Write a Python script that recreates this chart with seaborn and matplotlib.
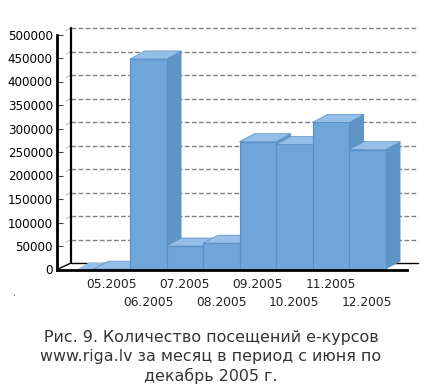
import matplotlib
matplotlib.use("Agg")
import matplotlib.pyplot as plt
import seaborn as sns
import pandas as pd
from matplotlib.patches import Polygon, Rectangle

months = ["", "05.2005", "06.2005", "07.2005", "08.2005", "09.2005", "10.2005", "11.2005", "12.2005"]
visits = [0, 800, 448000, 50000, 56000, 272000, 266000, 313000, 255000]
y_ticks = [0, 50000, 100000, 150000, 200000, 250000, 300000, 350000, 400000, 450000, 500000]
caption = "Рис. 9. Количество посещений е-курсов\nwww.riga.lv за месяц в период с июня по\nдекабрь 2005 г."

W, H = 428, 386
FRONT, SIDE, TOP, EDGE = "#6fa5d9", "#5f94c7", "#93bfe8", "#5a8fc4"
sns.set_theme(style="white", rc={"font.family": "DejaVu Sans"})

fig = plt.figure(figsize=(W / 100, H / 100), dpi=100, facecolor="white")
x0, y0, px_w, px_h = 57, 269.5, 350, 235
ax = fig.add_axes([x0 / W, 1 - y0 / H, px_w / W, px_h / H])

df = pd.DataFrame({"month": months, "visits": visits})
sns.barplot(data=df, x="month", y="visits", color=FRONT, saturation=1, width=1, ax=ax,
            order=months, linewidth=0, zorder=5)
bar_px = 36.5
ax.set_xlim(-0.5, -0.5 + px_w / bar_px)
ax.set_ylim(0, 500000)
ux = 1 / bar_px              # data units per pixel, horizontally
uy = 500000 / px_h           # data units per pixel, vertically
xl = -0.5

# back wall and gridlines
wx, wy = 14 * ux, 6.5 * uy
for t in y_ticks[1:]:
    ax.plot([xl + wx, xl + 361 * ux], [t + wy, t + wy], color="#808080", lw=1,
            dashes=(3.4, 1.7), clip_on=False, zorder=1)
    ax.plot([xl + 9 * ux, xl + wx], [t + wy * .6, t + wy], color="#bbbbbb", lw=.7, clip_on=False, zorder=1)
ax.plot([xl + wx, xl + wx], [wy, 500000 + wy], color="black", lw=1.6, clip_on=False, zorder=2)
ax.plot([xl, xl + wx], [0, wy], color="black", lw=1, clip_on=False, zorder=2)
ax.plot([xl + wx, xl + 361 * ux], [wy, wy], color="black", lw=1, clip_on=False, zorder=2)

# depth faces of every bar, left to right
dx, dy = 15 * ux, 8 * uy
for i, (bar, v) in enumerate(zip(ax.patches, visits)):
    z = 5 + i
    bar.set_zorder(z + .5)
    bar.set_edgecolor(EDGE)
    bar.set_linewidth(.8)
    l, r = bar.get_x(), bar.get_x() + bar.get_width()
    if i == 0:
        # only the near part of the empty first slot shows a floor tint in the reference
        l2 = l + 20 * ux
        ax.add_patch(Polygon([(l2, 0), (r, 0), (r + dx, wy), (l2 + 11 * ux, wy)], fc=TOP, ec="none",
                             zorder=z + .6, clip_on=False))
        continue
    ax.add_patch(Polygon([(r, 0), (r + dx, dy), (r + dx, v + dy), (r, v)], fc=SIDE, ec="none",
                         zorder=z, clip_on=False))
    ax.add_patch(Polygon([(l, v), (r, v), (r + dx, v + dy), (l + dx, v + dy)], fc=TOP, ec=EDGE, lw=.5,
                         zorder=z + .6, clip_on=False))

for s in ["top", "right"]:
    ax.spines[s].set_visible(False)
for s in ["left", "bottom"]:
    ax.spines[s].set_linewidth(2)
    ax.spines[s].set_color("black")
    ax.spines[s].set_zorder(30)

ax.set_xlabel("")
ax.set_ylabel("")
ax.set_yticks(y_ticks)
ax.set_yticklabels([str(t) for t in y_ticks], fontsize=8.6, color="black")
ax.tick_params(axis="y", left=True, direction="in", length=4, width=.8, color="#444444", pad=3)
ax.set_xticks(range(len(months)))
ax.set_xticklabels(months, fontsize=8.8, color="#222222")
ax.tick_params(axis="x", bottom=False, length=0)
for i, tick in enumerate(ax.xaxis.get_major_ticks()):
    tick.set_pad(6 if i % 2 else 19)

fig.text(211 / W, 1 - 357 / H, caption, ha="center", va="center", fontsize=11.4, color="#333333",
         linespacing=1.29)
fig.add_artist(Rectangle((14 / W, 1 - 296 / H), 1 / W, 1 / H, transform=fig.transFigure, fc="#555555", ec="none"))

fig.savefig("out.png", dpi=100, facecolor="white")
